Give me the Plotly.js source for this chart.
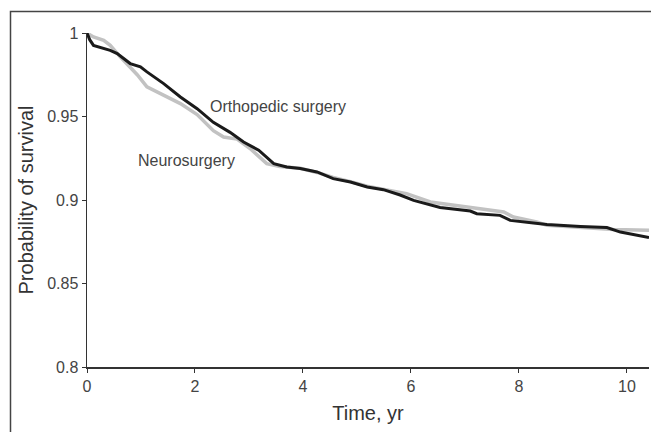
<!DOCTYPE html>
<html>
<head>
<meta charset="utf-8">
<script src="https://cdn.plot.ly/plotly-3.0.1.min.js"></script>
<style>html,body{margin:0;padding:0;background:#fff;}#chart{width:651px;height:432px;}</style>
</head>
<body>
<div id="chart"></div>
<script>
// Orthopedic surgery (black)
var orthoTime = [0, 0.05, 0.12, 0.25, 0.43, 0.56, 0.80, 0.99, 1.11, 1.42, 1.73, 2.04, 2.34, 2.65, 2.90, 3.18, 3.46, 3.70, 3.95, 4.26, 4.56, 4.88, 5.19, 5.49, 5.80, 6.05, 6.54, 7.10, 7.22, 7.65, 7.84, 8.27, 8.52, 9.14, 9.63, 9.88, 10.41];
var orthoSurv = [1.0, 0.996, 0.9926, 0.9912, 0.9896, 0.9877, 0.9817, 0.9797, 0.9767, 0.9697, 0.9617, 0.9547, 0.9465, 0.9405, 0.9347, 0.9298, 0.9218, 0.9198, 0.9188, 0.9168, 0.9128, 0.9108, 0.9078, 0.9062, 0.9030, 0.8998, 0.8955, 0.8934, 0.8918, 0.8908, 0.8878, 0.8862, 0.8854, 0.8842, 0.8835, 0.8808, 0.8775];
// Neurosurgery (grey)
var neuroTime = [0, 0.12, 0.31, 0.43, 0.62, 0.80, 0.93, 1.11, 1.42, 1.73, 2.04, 2.34, 2.53, 2.78, 3.02, 3.33, 3.57, 3.95, 4.26, 4.56, 4.88, 5.19, 5.43, 5.92, 6.36, 6.98, 7.72, 7.90, 8.33, 8.52, 9.14, 9.75, 10.41];
var neuroSurv = [1.0, 0.9976, 0.9956, 0.9926, 0.9856, 0.9796, 0.9750, 0.9677, 0.9627, 0.9577, 0.9512, 0.9415, 0.9377, 0.9365, 0.9308, 0.9218, 0.9200, 0.9190, 0.9165, 0.9135, 0.9110, 0.9082, 0.9068, 0.9038, 0.8988, 0.8962, 0.8928, 0.8898, 0.8868, 0.8848, 0.8835, 0.8823, 0.8819];

var xTicks = [0, 2, 4, 6, 8, 10];
var xTickText = ['0', '2', '4', '6', '8', '10'];
var yTicks = [0.8, 0.85, 0.9, 0.95, 1];
var yTickText = ['0.8', '0.85', '0.9', '0.95', '1'];

var labelOrtho = 'Orthopedic surgery';
var labelNeuro = 'Neurosurgery';

var FONT = 'Liberation Sans, Arial, sans-serif';

var traces = [
  {x: neuroTime, y: neuroSurv, type: 'scatter', mode: 'lines', name: labelNeuro,
   line: {color: '#c2c2c2', width: 3.5}},
  {x: orthoTime, y: orthoSurv, type: 'scatter', mode: 'lines', name: labelOrtho,
   line: {color: '#1a1a1a', width: 3}}
];

var layout = {
  width: 651, height: 432,
  margin: {l: 87, r: 2, t: 33, b: 65, pad: 0},
  paper_bgcolor: '#fff', plot_bgcolor: '#fff',
  showlegend: false,
  font: {family: FONT, color: '#444', size: 16},
  xaxis: {
    range: [0, 10.41], tickvals: xTicks, ticktext: xTickText,
    showgrid: false, zeroline: false, showline: true, linecolor: '#333', linewidth: 1.5,
    ticks: 'outside', ticklen: 4, tickcolor: '#333', tickwidth: 1,
    tickfont: {family: FONT, size: 16, color: '#444'},
    title: {text: 'Time, yr', font: {family: FONT, size: 20, color: '#333'}, standoff: 12}
  },
  yaxis: {
    range: [0.8, 1], tickvals: yTicks, ticktext: yTickText,
    showgrid: false, zeroline: false, showline: true, linecolor: '#333', linewidth: 1.5,
    ticks: 'outside', ticklen: 4, tickcolor: '#333', tickwidth: 1,
    tickfont: {family: FONT, size: 16, color: '#444'},
    title: {text: 'Probability of survival', font: {family: FONT, size: 20, color: '#333'}, standoff: 8}
  },
  annotations: [
    {xref: 'paper', yref: 'paper', x: (208.3 - 87) / 562, y: (367 - 106.7) / 334,
     xanchor: 'left', yanchor: 'middle', text: labelOrtho, showarrow: false,
     font: {family: FONT, size: 16, color: '#444'}},
    {xref: 'paper', yref: 'paper', x: (136.2 - 87) / 562, y: (367 - 160) / 334,
     xanchor: 'left', yanchor: 'middle', text: labelNeuro, showarrow: false,
     font: {family: FONT, size: 16, color: '#444'}}
  ],
  shapes: [
    {type: 'rect', xref: 'paper', yref: 'paper',
     x0: (10.5 - 87) / 562, x1: 1.2, y0: -0.4, y1: (367 - 11.5) / 334,
     line: {color: '#444', width: 1.5}, fillcolor: 'rgba(0,0,0,0)', layer: 'below'}
  ]
};

Plotly.newPlot('chart', traces, layout, {displayModeBar: false, staticPlot: true});
</script>
</body>
</html>
